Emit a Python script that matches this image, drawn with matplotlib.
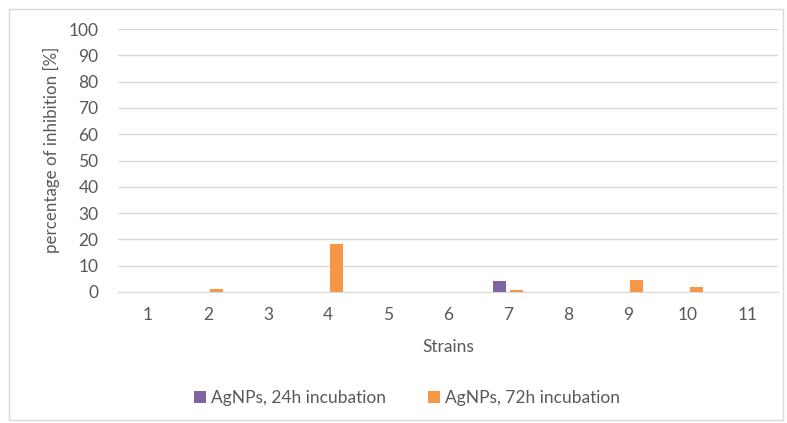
import numpy as np
import matplotlib.pyplot as plt
from matplotlib.patches import Rectangle

plt.rcParams['font.family'] = ['Lato', 'DejaVu Sans']

strains = ["1", "2", "3", "4", "5", "6", "7", "8", "9", "10", "11"]
inc_24h = [0, 0, 0, 0, 0, 0, 4.3, 0, 0, 0, 0]
inc_72h = [0, 1.3, 0, 18.2, 0, 0, 0.6, 0, 4.6, 1.8, 0]

txt = "#595959"
purple = "#8064A2"
orange = "#F79646"

fig = plt.figure(figsize=(7.87, 4.23), dpi=100)
ax = fig.add_axes([118 / 787, 1 - 292 / 423, 660 / 787, 263 / 423])

x = np.arange(len(strains))
w = 0.22
ax.bar(x - 0.14, inc_24h, w, color=purple, label="AgNPs, 24h incubation", zorder=3)
ax.bar(x + 0.14, inc_72h, w, color=orange, label="AgNPs, 72h incubation", zorder=3)

ax.set_xlim(-0.5, len(strains) - 0.5)
ax.set_ylim(0, 100)
ax.set_yticks(range(0, 101, 10))
ax.set_xticks(x)
ax.set_xticklabels(strains)
ax.yaxis.grid(True, color="#D9D9D9", linewidth=1, zorder=0)
for s in ["top", "right", "left"]:
    ax.spines[s].set_visible(False)
ax.spines["bottom"].set_color("#D9D9D9")
ax.tick_params(length=0, labelsize=12.5, colors=txt)
ax.tick_params(axis="x", pad=11)
ax.tick_params(axis="y", pad=14)
ax.set_xlabel("Strains", fontsize=12.5, color=txt, labelpad=11)

fig.text(51 / 787, 1 - 150 / 423, "percentage of inhibition [%]", rotation=90,
         ha="center", va="center", fontsize=12.2, color=txt)

leg = fig.legend(loc="center", bbox_to_anchor=(407 / 787, 1 - 398 / 423), ncol=2,
                 frameon=False, fontsize=12.5, handlelength=0.7, handleheight=0.7,
                 handletextpad=0.3, columnspacing=2.4)
for t in leg.get_texts():
    t.set_color(txt)

fig.patches.append(Rectangle((9 / 787, 3 / 423), 774 / 787, 411 / 423, transform=fig.transFigure,
                             fill=False, edgecolor="#D9D9D9", linewidth=1))

fig.savefig("out.png", dpi=100)
